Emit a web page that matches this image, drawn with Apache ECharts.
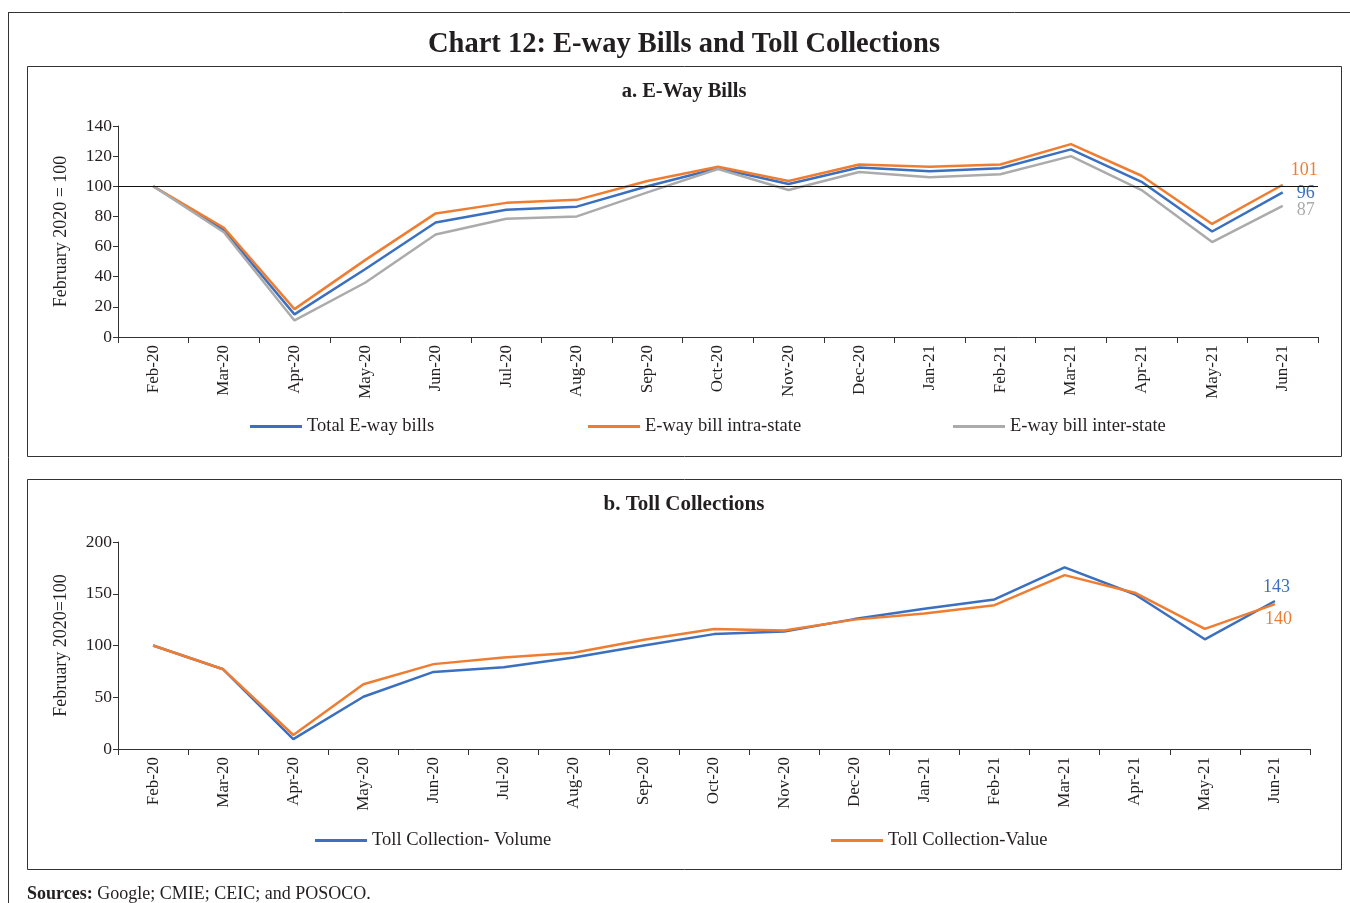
<!DOCTYPE html>
<html>
<head>
<meta charset="utf-8">
<script src="https://cdn.jsdelivr.net/npm/echarts@6/dist/echarts.min.js"></script>
<style>
  html, body { margin: 0; padding: 0; background: #fff; }
  #chart { width: 1350px; height: 903px; }
</style>
</head>
<body>
<div id="chart"></div>
<script>
const months = ['Feb-20', 'Mar-20', 'Apr-20', 'May-20', 'Jun-20', 'Jul-20', 'Aug-20', 'Sep-20', 'Oct-20',
  'Nov-20', 'Dec-20', 'Jan-21', 'Feb-21', 'Mar-21', 'Apr-21', 'May-21', 'Jun-21']

// a. E-Way Bills (February 2020 = 100)
const ewayTotal = [100, 71, 15, 45, 76, 84.5, 86.5, 100, 112, 101.5, 112.5, 110, 112, 124.5, 103, 70, 96]
const ewayIntra = [100, 72.5, 18.5, 51, 82, 89, 91, 103.5, 113, 103.5, 114.5, 113, 114.5, 128, 107, 75, 101]
const ewayInter = [100, 69.5, 11, 36, 68, 78.5, 80, 96, 111.5, 97.5, 109.5, 106, 108, 120, 97.5, 63, 87]

// b. Toll Collections (February 2020 = 100)
const tollVolume = [100, 77, 9.5, 50.5, 74.5, 79, 88.5, 100, 111, 113.5, 125.5, 135.5, 144.5, 175.5, 149.5, 106, 143]
const tollValue = [100, 77, 13.5, 62.5, 82, 88.5, 93, 105.5, 116, 114.5, 125, 131, 139, 168, 151, 116, 140]

const ewayTicks = { min: 0, max: 140, interval: 20 }
const tollTicks = { min: 0, max: 200, interval: 50 }

const BLUE = '#3b6fbf'
const ORANGE = '#ef7d31'
const GREY = '#ababab'
const TXT = '#231f20'
const FONT = '"Liberation Serif", "DejaVu Serif", serif'

let myChart = echarts.init(document.getElementById('chart'))

function xAxisFor(grid) {
	return {
		type: 'category',
		gridIndex: grid,
		data: months,
		boundaryGap: true,
		axisLine: { lineStyle: { color: '#333', width: 1 } },
		axisTick: { show: true, length: 6, lineStyle: { color: '#333' } },
		axisLabel: { rotate: 90, margin: 8, color: TXT, fontFamily: FONT, fontSize: 17 },
		splitLine: { show: false }
	}
}

function yAxisFor(grid, ticks, name) {
	return {
		type: 'value',
		gridIndex: grid,
		min: ticks.min,
		max: ticks.max,
		interval: ticks.interval,
		name: name,
		nameLocation: 'middle',
		nameGap: 48,
		nameTextStyle: { color: TXT, fontFamily: FONT, fontSize: 18 },
		axisLine: { show: true, lineStyle: { color: '#333', width: 1 } },
		axisTick: { show: true, length: 5, lineStyle: { color: '#333' } },
		axisLabel: { color: TXT, fontFamily: FONT, fontSize: 17.5, margin: 6 },
		splitLine: { show: false }
	}
}

function lineSeries(name, data, color, grid, labelOffset) {
	return {
		name: name,
		type: 'line',
		xAxisIndex: grid,
		yAxisIndex: grid,
		data: data,
		showSymbol: false,
		symbol: 'none',
		lineStyle: { color: color, width: 2.5 },
		itemStyle: { color: color },
		endLabel: {
			show: true,
			formatter: (p) => Math.round(p.value),
			color: color,
			fontFamily: FONT,
			fontSize: 18,
			distance: 4,
			offset: labelOffset
		},
		silent: true
	}
}

function legendFor(name, left, top) {
	return {
		data: [name],
		left: left,
		top: top,
		icon: 'rect',
		itemWidth: 52,
		itemHeight: 3,
		itemGap: 5,
		textStyle: { color: TXT, fontFamily: FONT, fontSize: 18.5, padding: [0, 0, 0, 0] },
		selectedMode: false
	}
}

function heading(text, y, size) {
	return {
		type: 'text', x: 684, y: y,
		style: {
			text: text, textAlign: 'center', textVerticalAlign: 'middle',
			fill: TXT, font: 'bold ' + size + 'px ' + FONT
		}
	}
}

let totalSeries = lineSeries('Total E-way bills', ewayTotal, BLUE, 0, [10, 1])
totalSeries.markLine = {
	symbol: 'none',
	silent: true,
	label: { show: false },
	lineStyle: { color: '#111', width: 1, type: 'solid' },
	data: [{ yAxis: 100 }]
}

let option = {
	animation: false,
	backgroundColor: '#fff',
	legend: [
		legendFor('Total E-way bills', 245, 412),
		legendFor('E-way bill intra-state', 583, 412),
		legendFor('E-way bill inter-state', 948, 412),
		legendFor('Toll Collection- Volume', 310, 826),
		legendFor('Toll Collection-Value', 826, 826)
	],
	grid: [
		{ left: 118, top: 126, width: 1200, height: 211 },
		{ left: 118, top: 542, width: 1192, height: 207 }
	],
	xAxis: [xAxisFor(0), xAxisFor(1)],
	yAxis: [
		yAxisFor(0, ewayTicks, 'February 2020 = 100'),
		yAxisFor(1, tollTicks, 'February 2020=100')
	],
	series: [
		totalSeries,
		lineSeries('E-way bill intra-state', ewayIntra, ORANGE, 0, [4, -15]),
		lineSeries('E-way bill inter-state', ewayInter, GREY, 0, [10, 4]),
		lineSeries('Toll Collection- Volume', tollVolume, BLUE, 1, [-16, -14]),
		lineSeries('Toll Collection-Value', tollValue, ORANGE, 1, [-14, 15])
	],
	graphic: [
		{ type: 'line', shape: { x1: 8, y1: 12.5, x2: 1350, y2: 12.5 }, style: { stroke: '#333', lineWidth: 1 } },
		{ type: 'line', shape: { x1: 8.5, y1: 12, x2: 8.5, y2: 903 }, style: { stroke: '#333', lineWidth: 1 } },
		{ type: 'rect', shape: { x: 27.5, y: 66.5, width: 1314, height: 390 }, style: { fill: 'none', stroke: '#333', lineWidth: 1 } },
		{ type: 'rect', shape: { x: 27.5, y: 479.5, width: 1314, height: 390 }, style: { fill: 'none', stroke: '#333', lineWidth: 1 } },
		heading('Chart 12: E-way Bills and Toll Collections', 45, 28.5),
		heading('a. E-Way Bills', 92, 20.5),
		heading('b. Toll Collections', 505, 21),
		{
			type: 'text', left: 27, top: 885,
			style: {
				text: '{b|Sources:} Google; CMIE; CEIC; and POSOCO.',
				fill: TXT, font: '18px ' + FONT,
				rich: { b: { fontWeight: 'bold', fontFamily: FONT, fontSize: 18, fill: TXT } }
			}
		}
	]
}

myChart.setOption(option)
</script>
</body>
</html>
